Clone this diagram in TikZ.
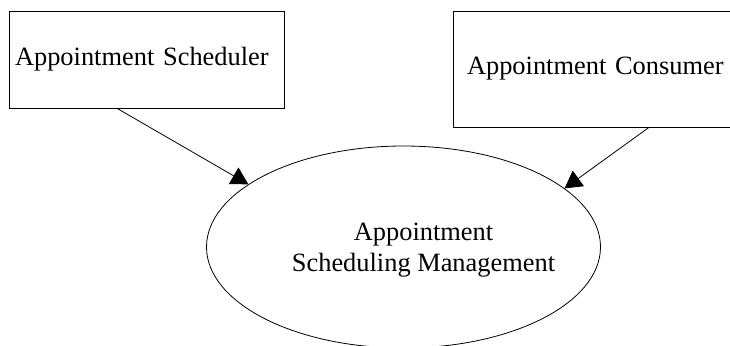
\documentclass[tikz,border=0pt]{standalone}
\usepackage{fontspec}
\setmainfont{Liberation Serif}
\usetikzlibrary{arrows.meta,shapes.geometric}
\begin{document}
\begin{tikzpicture}[x=1pt,y=-1pt,
  box/.style={draw, line width=0.8pt, rectangle, align=left, inner ysep=0pt,
    font=\fontsize{26.4}{31}\selectfont},
  usecase/.style={draw, line width=0.8pt, ellipse, inner sep=0pt},
  txt/.style={align=center, inner sep=0pt, font=\fontsize{26.4}{31}\selectfont},
  flow/.style={line width=0.8pt, -{Triangle[length=17pt,width=19pt]}}]
  \clip (0,0) rectangle (730,345);
  \fill[white] (0,0) rectangle (730,345);

  % actors
  \node[box, text width=263pt, inner xsep=6pt, minimum height=97pt]
    (sched) at (146.5,59.5) {Appointment Scheduler};
  \node[box, text width=255pt, inner xsep=14pt, minimum height=116pt]
    (consumer) at (594.5,69) {\raisebox{-8pt}{Appointment Consumer}};

  % use case
  \node[usecase, minimum width=394pt, minimum height=202pt] (mgmt) at (403.5,247) {};
  \node[txt] (mgmtlabel) at (423.5,250) {Appointment\\Scheduling Management};

  % associations
  \draw[flow] (sched.239.6) -- (mgmt.158.2);
  \draw[flow] (consumer.313.2) -- (mgmt.20.3);
\end{tikzpicture}
\end{document}
